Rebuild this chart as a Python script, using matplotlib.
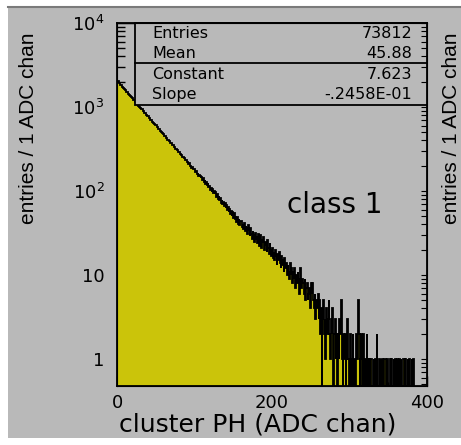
import numpy as np
import matplotlib
matplotlib.use("Agg")
import matplotlib.pyplot as plt
from matplotlib.patches import Rectangle
from matplotlib.lines import Line2D

# cluster pulse height spectrum, 1 ADC channel per bin (channels 0..399)
counts = [
    1978, 2013, 1931, 1912, 1847, 1823, 1740, 1736, 1662, 1651, 1588, 1574, 1509, 1497, 1441, 1429, 1372, 1355, 1320, 1268,
    1262, 1209, 1198, 1150, 1141, 1096, 1089, 1042, 1035, 998, 986, 948, 939, 902, 893, 857, 851, 818, 811, 779,
    771, 738, 734, 704, 699, 671, 665, 638, 633, 607, 604, 579, 574, 551, 547, 524, 521, 499, 497, 476,
    472, 451, 450, 429, 428, 409, 407, 389, 388, 370, 369, 352, 353, 336, 335, 320, 319, 305, 304, 290,
    291, 276, 270, 271, 255, 257, 244, 246, 231, 233, 221, 222, 209, 213, 199, 201, 190, 192, 181, 184,
    178, 169, 171, 160, 165, 152, 157, 150, 143, 148, 134, 141, 129, 136, 121, 128, 117, 123, 112, 116,
    104, 110, 98, 106, 95, 99, 91, 96, 85, 92, 80, 87, 78, 83, 72, 79, 70, 74, 66, 71,
    63, 68, 59, 65, 57, 61, 53, 58, 51, 56, 48, 54, 46, 50, 43, 49, 41, 46, 39, 44,
    44, 37, 41, 35, 42, 33, 38, 36, 31, 39, 34, 29, 36, 31, 27, 33, 30, 25, 32, 27,
    29, 24, 31, 22, 27, 30, 21, 26, 24, 28, 20, 25, 23, 19, 26, 21, 18, 24, 20, 17,
    21, 16, 19, 15, 20, 17, 13, 18, 15, 19, 14, 12, 17, 13, 15, 11, 16, 12, 14, 10,
    13, 11, 9, 14, 10, 12, 8, 11, 9, 12, 7, 10, 8, 11, 9, 6, 12, 8, 7, 9,
    8, 6, 9, 5, 7, 8, 5, 6, 7, 4, 8, 6, 8, 5, 4, 6, 3, 5, 4, 6,
    3, 5, 2, 4, 0, 3, 5, 2, 3, 1, 4, 2, 3, 5, 2, 1, 3, 2, 4, 0,
    2, 3, 1, 2, 0, 2, 1, 3, 2, 5, 1, 0, 2, 1, 2, 0, 1, 3, 1, 0,
    1, 2, 0, 1, 2, 0, 1, 0, 2, 2, 1, 5, 2, 0, 1, 2, 0, 1, 2, 0,
    1, 0, 2, 1, 0, 1, 0, 1, 1, 0, 0, 1, 0, 1, 0, 2, 0, 0, 1, 0,
    1, 0, 1, 0, 0, 1, 1, 0, 0, 1, 0, 0, 1, 0, 1, 0, 0, 1, 0, 1,
    0, 1, 0, 0, 1, 0, 1, 0, 0, 1, 1, 0, 1, 0, 0, 1, 0, 1, 0, 0,
    1, 0, 1, 0, 0, 0, 0, 0, 0, 0, 0, 0, 0, 0, 0, 0, 0, 0, 0, 0,
]
bin_edges = np.arange(0, 401, 1)

stat_names = ["Entries", "Mean", "Constant", "Slope"]
stat_values = ["73812", "45.88", "7.623", "-.2458E-01"]

xticks = [0, 200, 400]
xticklabels = ["0", "200", "400"]
yticks = [1, 10, 100, 1000, 10000]
yticklabels = ["1", "10", "$10^{2}$", "$10^{3}$", "$10^{4}$"]

panel_label = "class 1"
xlabel = "cluster PH (ADC chan)"
ylabel = "entries / 1 ADC chan"

BG = "#b9b9b9"
FILL = "#cbc40a"

fig = plt.figure(figsize=(4.61, 4.45), dpi=100, facecolor="white")
# grey canvas with thin white margins, drawn beneath the axes
fig.patches.append(Rectangle((0.0174, 0.0157), 0.99, 0.9686, transform=fig.transFigure,
                             facecolor=BG, edgecolor="none", zorder=-10))
fig.lines.append(Line2D([0.0174, 1.0], [0.9843, 0.9843], transform=fig.transFigure,
                        color="#7a7a7a", lw=1.5, zorder=-9))

ax = fig.add_axes([0.2538, 0.1326, 0.6725, 0.8157])
ax.set_facecolor(BG)
ax.set_yscale("log")

c = np.asarray(counts, dtype=float)
shown = np.where(c > 0, c, 0.1)
ax.stairs(shown, bin_edges, baseline=0.1, fill=True, color=FILL, zorder=2)
ax.stairs(shown, bin_edges, baseline=None, color="black", lw=1.3, zorder=3)

ax.set_xlim(0, 400)
ax.set_ylim(0.477, 1e4)

ax.set_xticks(xticks)
ax.set_xticklabels(xticklabels)
ax.set_xticks(np.arange(0, 401, 50), minor=True)
ax.set_yticks(yticks)
ax.set_yticklabels(yticklabels)
ax.yaxis.set_minor_locator(matplotlib.ticker.LogLocator(base=10, subs=np.arange(2, 10)))
ax.yaxis.set_minor_formatter(matplotlib.ticker.NullFormatter())

ax.tick_params(axis="x", which="major", direction="in", length=7, width=1.0, pad=6,
               labelsize=13, top=False)
ax.tick_params(axis="x", which="minor", direction="in", length=3, width=1.0, top=False)
ax.tick_params(axis="y", which="major", direction="in", length=13, width=1.0, pad=9,
               labelsize=13, right=False)
ax.tick_params(axis="y", which="minor", direction="in", length=6, width=1.0, right=False)
for s in ax.spines.values():
    s.set_linewidth(1.3)

# small inward ticks along the right edge
ax2 = ax.twinx()
ax2.set_yscale("log")
ax2.set_ylim(ax.get_ylim())
ax2.yaxis.set_minor_locator(matplotlib.ticker.LogLocator(base=10, subs=np.arange(2, 10)))
ax2.tick_params(axis="y", which="both", direction="in", length=4, width=0.8,
                labelright=False)
ax2.yaxis.set_major_formatter(matplotlib.ticker.NullFormatter())
ax2.yaxis.set_minor_formatter(matplotlib.ticker.NullFormatter())

# statistics box
bx0, by0 = 0.058, 0.774
ax.add_patch(Rectangle((bx0, by0), 1 - bx0, 1 - by0, transform=ax.transAxes,
                       facecolor=BG, edgecolor="black", lw=1.3, zorder=5, clip_on=False))
ax.plot([bx0, 1.0], [0.890, 0.890], transform=ax.transAxes, color="black", lw=1.3,
        zorder=6, clip_on=False)
row_y = [0.972, 0.917, 0.857, 0.802]
for name, val, yy in zip(stat_names, stat_values, row_y):
    ax.text(0.113, yy, name, transform=ax.transAxes, ha="left", va="center",
            fontsize=11.5, zorder=7)
    ax.text(0.952, yy, val, transform=ax.transAxes, ha="right", va="center",
            fontsize=11.5, zorder=7)

ax.text(0.703, 0.499, panel_label, transform=ax.transAxes, ha="center", va="center",
        fontsize=20, zorder=7)

fig.text(0.558, 0.046, xlabel, ha="center", va="center", fontsize=18)
fig.text(0.061, 0.712, ylabel, ha="center", va="center", rotation=90,
         fontsize=15, family="Liberation Sans")
fig.text(0.980, 0.712, ylabel, ha="center", va="center", rotation=90,
         fontsize=15, family="Liberation Sans")

fig.savefig("out.png", dpi=100, facecolor="white")
